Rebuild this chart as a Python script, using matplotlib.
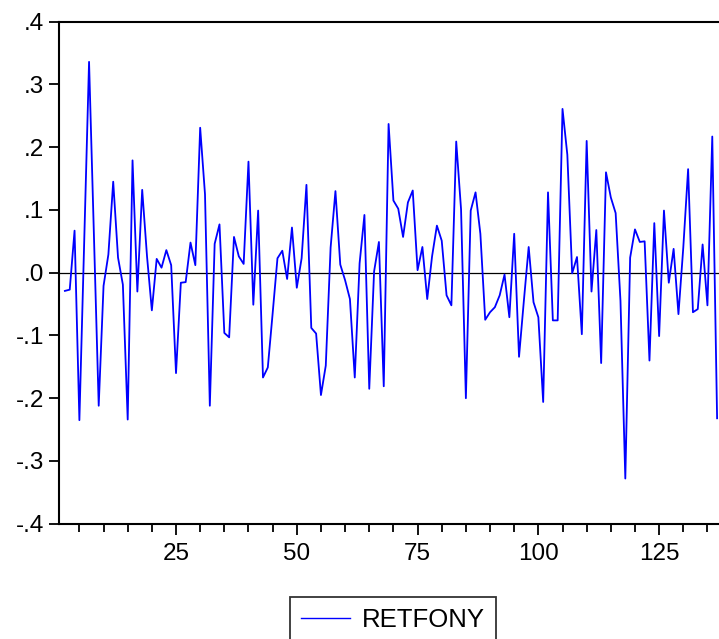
"""RETFONY 수익률 시계열 — EViews 스타일 라인 차트."""
import matplotlib

matplotlib.use("Agg")
import matplotlib.pyplot as plt
import numpy as np
from matplotlib.ticker import FixedLocator, MultipleLocator

# 관측치 번호 2..137 (첫 관측치는 수익률이 없음)
obs = np.arange(2, 138)
retfony = [
    -0.029, -0.027, 0.067, -0.235, 0.050, 0.336, 0.060, -0.212, -0.021, 0.029,
    0.145, 0.024, -0.019, -0.234, 0.179, -0.030, 0.132, 0.026, -0.060, 0.022,
    0.008, 0.036, 0.012, -0.160, -0.016, -0.015, 0.048, 0.012, 0.231, 0.125,
    -0.212, 0.046, 0.077, -0.096, -0.103, 0.057, 0.026, 0.014, 0.177, -0.051,
    0.099, -0.167, -0.151, -0.065, 0.023, 0.035, -0.010, 0.072, -0.024, 0.023,
    0.140, -0.088, -0.097, -0.195, -0.148, 0.040, 0.130, 0.013, -0.012, -0.042,
    -0.167, 0.015, 0.092, -0.185, 0.002, 0.049, -0.181, 0.237, 0.115, 0.102,
    0.057, 0.112, 0.131, 0.004, 0.041, -0.042, 0.026, 0.075, 0.051, -0.036,
    -0.052, 0.209, 0.101, -0.200, 0.099, 0.128, 0.062, -0.075, -0.063, -0.055,
    -0.036, -0.003, -0.071, 0.062, -0.134, -0.045, 0.041, -0.047, -0.071, -0.206,
    0.128, -0.076, -0.076, 0.261, 0.188, -0.001, 0.025, -0.098, 0.210, -0.030,
    0.068, -0.144, 0.160, 0.120, 0.095, -0.045, -0.328, 0.024, 0.069, 0.049,
    0.050, -0.140, 0.079, -0.101, 0.099, -0.016, 0.038, -0.066, 0.040, 0.165,
    -0.063, -0.058, 0.045, -0.052, 0.217, -0.232,
]
series_name = "RETFONY"

y_ticks = [-0.4, -0.3, -0.2, -0.1, 0.0, 0.1, 0.2, 0.3, 0.4]
y_ticklabels = ["-.4", "-.3", "-.2", "-.1", ".0", ".1", ".2", ".3", ".4"]
x_major = [25, 50, 75, 100, 125]

plt.rcParams["font.family"] = ["Liberation Sans", "DejaVu Sans"]

W, H = 719, 639
fig = plt.figure(figsize=(W / 100, H / 100), dpi=100)
# 오른쪽 테두리는 그림 밖으로 밀어낸다 (원본처럼 잘린 모양)
ax = fig.add_axes([59 / W, 1 - 523.7 / H, (720 - 59) / W, (523.7 - 21.7) / H])

ax.axhline(0.0, color="black", linewidth=0.9, zorder=1)
line, = ax.plot(obs, retfony, color="#0000ff", linewidth=1.3, zorder=2,
                label=series_name)

ax.set_xlim(0.78, 137.6)
ax.set_ylim(-0.4, 0.4)

ax.yaxis.set_major_locator(FixedLocator(y_ticks))
ax.set_yticklabels(y_ticklabels)
ax.xaxis.set_major_locator(FixedLocator(x_major))
ax.xaxis.set_minor_locator(MultipleLocator(5))

for side in ["left", "top", "bottom"]:
    ax.spines[side].set_linewidth(1.5)
ax.spines["right"].set_visible(False)

ax.tick_params(axis="y", which="major", direction="out", length=7.5, width=1.3,
               labelsize=17.5, pad=3)
ax.tick_params(axis="x", which="major", direction="out", length=8, width=1.3,
               labelsize=17.5, pad=6)
ax.tick_params(axis="x", which="minor", direction="out", length=5.5, width=1.3)

leg = fig.legend(handles=[line], loc="upper center",
                 bbox_to_anchor=(393 / W, 1 - 596.7 / H),
                 fontsize=18.5, frameon=True, fancybox=False, shadow=False,
                 borderpad=0.45, handlelength=1.9, handletextpad=0.45,
                 borderaxespad=0)
leg.get_frame().set_edgecolor("black")
leg.get_frame().set_linewidth(1.3)
leg.get_lines()[0].set_linewidth(1.0)

fig.savefig("out.png", dpi=100)
plt.close(fig)
